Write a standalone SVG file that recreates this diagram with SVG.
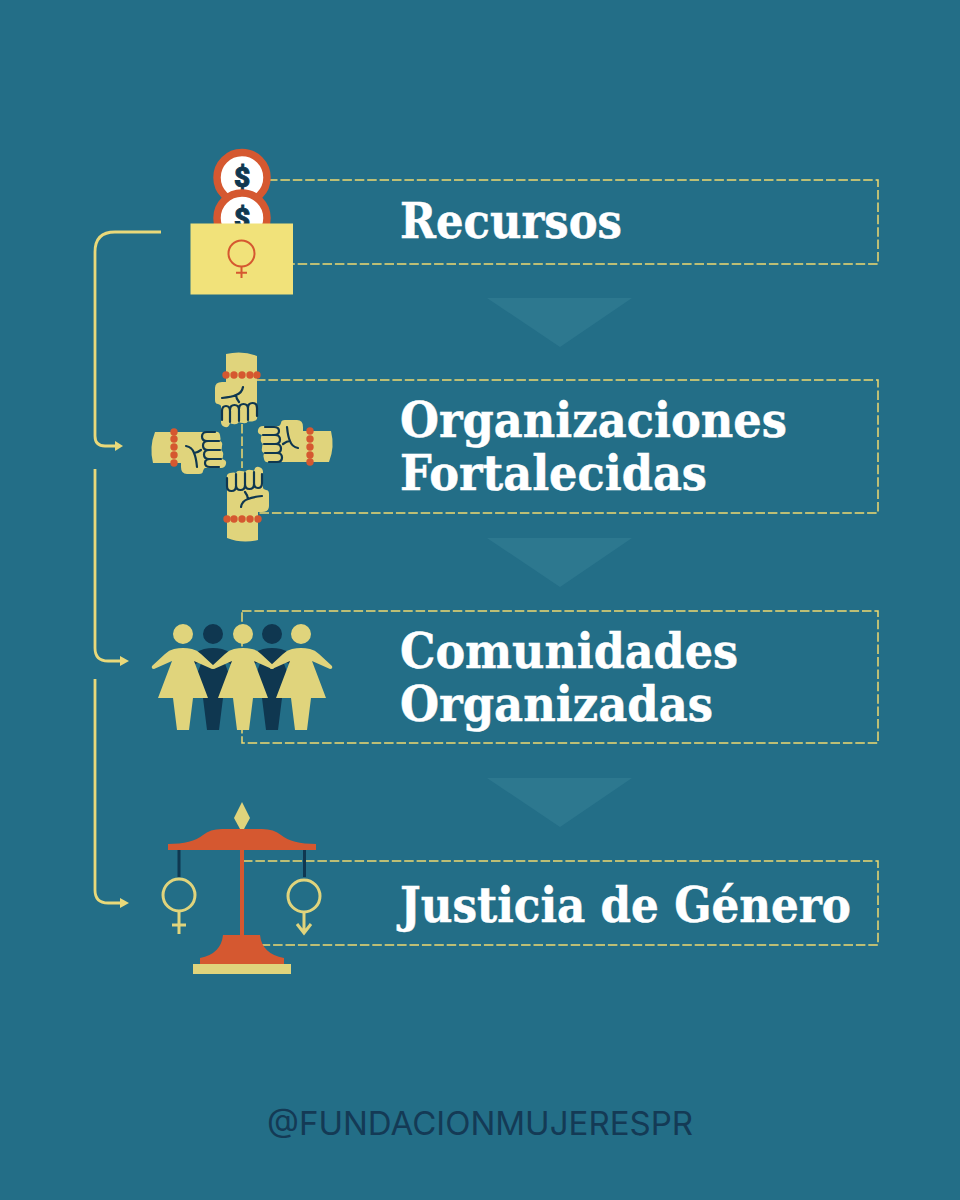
<svg xmlns="http://www.w3.org/2000/svg" width="960" height="1200" viewBox="0 0 960 1200">
<style>
.t{font-family:"DejaVu Serif","Liberation Serif",serif;font-weight:700;font-size:48px;fill:#fff;stroke:#fff;stroke-width:.5}
.d{fill:none;stroke:#f0d970;stroke-width:1.5;stroke-dasharray:9.5 2.9}
.c{fill:none;stroke:#e9d97a;stroke-width:2.8}
.a{fill:#e9d97a}
.tri{fill:#2d788f}
.y{fill:#e0d47c}
.n{fill:#0f3750}
.r{fill:#d55830}
.k{fill:none;stroke:#0f3750;stroke-width:2.200;stroke-linecap:round}
.b{fill:#d55830}
.s{font-family:Roboto,"Liberation Sans",sans-serif;font-weight:900;font-size:28px;fill:#0f3750;stroke:#0f3750;stroke-width:.9;text-anchor:middle}
</style>
<defs>
<g id="fist">
<path class="y" d="M-16,-93 Q0,-97 15,-91 V-31 Q16,-27 12,-26 Q8,-25 6,-26 Q5,-23 1,-24 Q-2,-24 -3,-25 Q-5,-22 -9,-23 Q-11,-23 -12,-24 Q-13,-19 -17,-20 Q-21,-21 -21,-25 V-41 Q-21,-42 -24,-43 Q-27,-43 -27,-47 V-59 Q-27,-65 -20,-65 H-16Z"/>
<path class="k" d="M-20,-27V-36Q-20,-41 -16,-41Q-12,-41 -12,-36V-25M-12,-37Q-12,-42 -7.500,-42Q-3,-42 -3,-37V-26M-3,-38Q-3,-43 1.500,-43Q6,-43 6,-38V-27M6,-39Q6,-44 10.500,-44Q15,-44 15,-39V-31M1,-60Q0,-54 -6,-52Q-10,-50 -20,-49M-6,-52Q-6,-49 -3,-45"/>
<g class="b"><circle cx="-16" cy="-72" r="3.700"/><circle cx="-8" cy="-72" r="3.700"/><circle cx="0" cy="-72" r="3.700"/><circle cx="8" cy="-72" r="3.700"/><circle cx="15" cy="-72" r="3.700"/></g>
</g>
<path id="woman" d="M-9,-67Q0,-69 9,-67Q14,-66 18,-62L31,-50Q32,-47 29,-47L11,-55L25,-18H10L6,14H-6L-10,-18H-25L-11,-55L-29,-47Q-32,-47 -31,-50L-18,-62Q-14,-66 -9,-67ZM10,-82A10,10 0 1 1 -10,-82A10,10 0 1 1 10,-82Z"/>
</defs>
<rect width="960" height="1200" fill="#236e87"/>
<g id="connectors">
<path class="d" d="M268,180H878V264H292"/>
<path class="d" d="M256,380H878V513H258"/>
<path class="d" d="M242,424V468"/>
<path class="d" d="M242,611H878V743H242Z"/>
<path class="d" d="M243,861H878V945H262"/>
<path class="c" d="M161,232H115Q95,232 95,252V436Q95,446 105,446H118"/>
<path class="a" d="M115,441L123,446L115,451Z"/>
<path class="c" d="M95,469V648Q95,661 108,661H122"/>
<path class="a" d="M120,656L129,661L120,666Z"/>
<path class="c" d="M95,679V890Q95,903 108,903H122"/>
<path class="a" d="M120,898L129,903L120,908Z"/>
</g>
<g id="flow-arrows">
<path class="tri" d="M487,298H632L560,347Z"/>
<path class="tri" d="M487,538H632L560,587Z"/>
<path class="tri" d="M487,778H632L560,827Z"/>
</g>
<g id="node-recursos">
<circle cx="242" cy="177.500" r="25" fill="#fff" stroke="#d55830" stroke-width="7.500"/>
<text class="s" x="242" y="187">$</text>
<circle cx="242" cy="218" r="25" fill="#fff" stroke="#d55830" stroke-width="7.500"/>
<text class="s" x="242" y="228">$</text>
<rect x="190.500" y="223.500" width="102.500" height="71" fill="#f1e27a"/>
<circle cx="241.500" cy="253.500" r="13" fill="none" stroke="#d55830" stroke-width="2"/>
<path d="M241.500,266.500V278M236,272.700H247" fill="none" stroke="#d55830" stroke-width="2"/>
<text class="t" x="400" y="238" textLength="222" lengthAdjust="spacingAndGlyphs">Recursos</text>
</g>
<g id="node-organizaciones">
<use href="#fist" transform="translate(242,447)"/>
<use href="#fist" transform="translate(242,447) rotate(180)"/>
<use href="#fist" transform="translate(246,447) rotate(-90)"/>
<use href="#fist" transform="translate(238,447) rotate(90)"/>
<text class="t" x="400" y="437" textLength="387" lengthAdjust="spacingAndGlyphs">Organizaciones</text>
<text class="t" x="400" y="490" textLength="307" lengthAdjust="spacingAndGlyphs">Fortalecidas</text>
</g>
<g id="node-comunidades">
<g class="n"><use href="#woman" transform="translate(213,716)"/><use href="#woman" transform="translate(272,716)"/></g>
<g class="y"><use href="#woman" transform="translate(183,716)"/><use href="#woman" transform="translate(243,716)"/><use href="#woman" transform="translate(301,716)"/></g>
<text class="t" x="400" y="668" textLength="338" lengthAdjust="spacingAndGlyphs">Comunidades</text>
<text class="t" x="400" y="721" textLength="313" lengthAdjust="spacingAndGlyphs">Organizadas</text>
</g>
<g id="node-justicia">
<path class="y" d="M242,802L250,818L244,829H240L234,818Z"/>
<path class="r" d="M168,844Q192,844 203,835Q210,829 222,829H262Q274,829 281,835Q292,844 316,844V850H168Z"/>
<rect class="r" x="240" y="850" width="4" height="90"/>
<path class="r" d="M223,935H260Q262,954 284,958V964H200V958Q221,954 223,935Z"/>
<rect class="y" x="193" y="964" width="98" height="10"/>
<rect class="n" x="177.500" y="850" width="3" height="27"/>
<rect class="n" x="303" y="850" width="3" height="27"/>
<g fill="none" stroke="#e0d47c" stroke-width="3">
<circle cx="179" cy="895" r="16"/><path d="M179,911V934M172,925H186"/>
<circle cx="304" cy="896" r="16"/><path d="M304,912V933M297,924L304,933L311,924"/>
</g>
<text class="t" x="400" y="922" textLength="451" lengthAdjust="spacingAndGlyphs">Justicia de Género</text>
</g>
<g id="footer"><text x="267" y="1135" font-family="Inter,'Liberation Sans',sans-serif" font-size="32" fill="#143a55" textLength="426" lengthAdjust="spacingAndGlyphs">@FUNDACIONMUJERESPR</text></g>
</svg>
